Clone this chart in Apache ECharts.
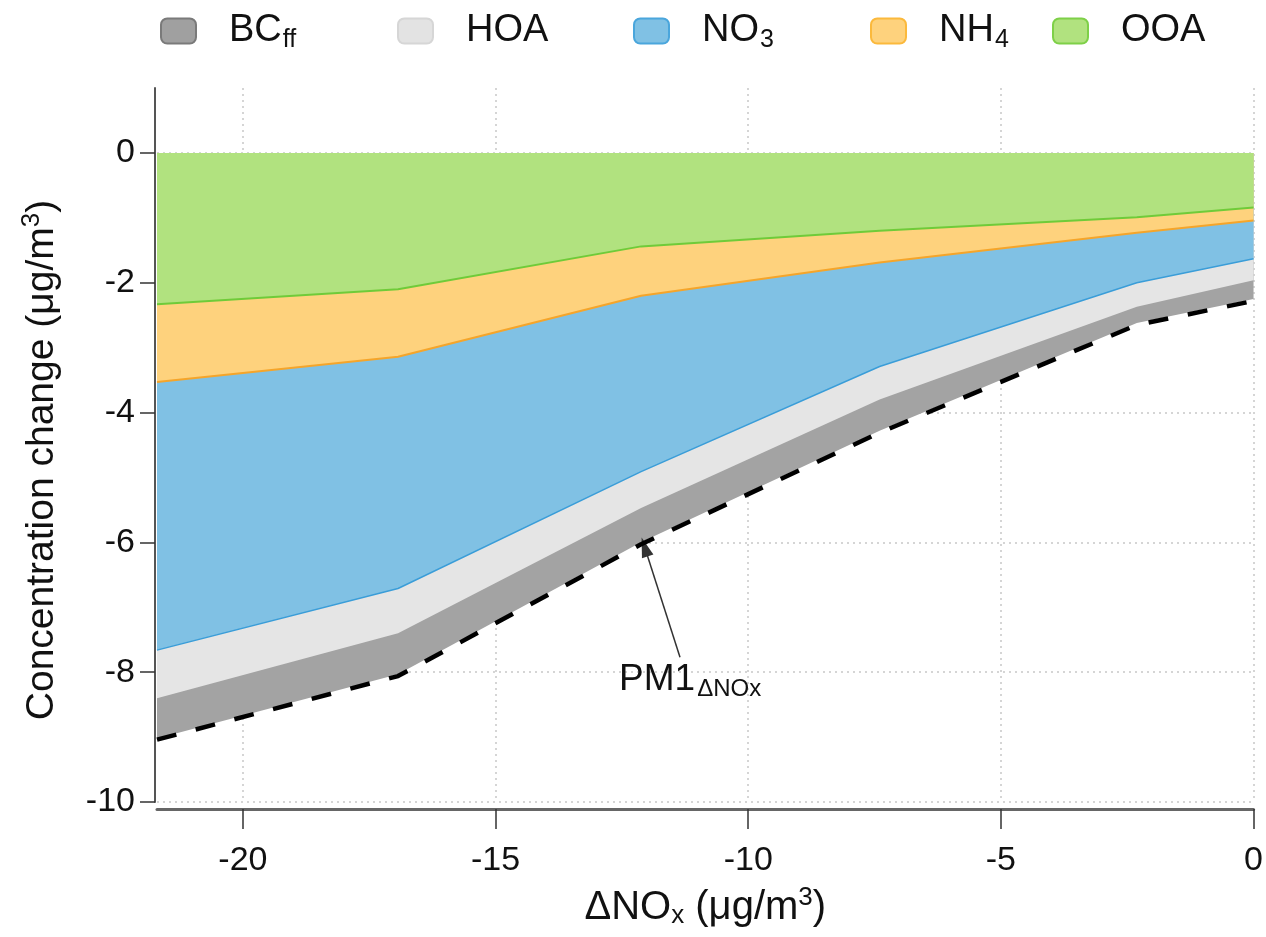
<!DOCTYPE html>
<html><head><meta charset="utf-8">
<script src="https://cdn.jsdelivr.net/npm/echarts@6/dist/echarts.min.js"></script>
<style>html,body{margin:0;padding:0;background:#fff}#c{width:1266px;height:937px}</style>
</head><body><div id="c"></div>
<script>
// ---- data ----
const dNOx = [-21.7, -16.93, -12.12, -7.40, -2.31, 0];
const OOA  = [-2.33, -2.10, -1.44, -1.20, -0.99, -0.84];
const NH4  = [-1.20, -1.04, -0.76, -0.49, -0.24, -0.20];
const NO3  = [-4.13, -3.57, -2.71, -1.60, -0.77, -0.59];
const HOA  = [-0.74, -0.69, -0.56, -0.51, -0.37, -0.33];
const BCff = [-0.62, -0.63, -0.53, -0.48, -0.25, -0.29];
const PM1  = [-9.04, -8.06, -6.03, -4.31, -2.65, -2.28];
const xTicks = [-20, -15, -10, -5, 0];
const yTicks = [-10, -8, -6, -4, -2, 0];
const arrowTail = [-11.35, -7.77];
const arrowTip = [-12.05, -6.07];
const pm1LabelAt = [-11.15, -8.12];

const FONT = 'Liberation Sans, Arial, sans-serif';

// stacking order from zero downward
const layers = [
  {name: 'OOA', data: OOA, fill: '#b1e27f', line: '#6fcb39', lw: 2},
  {name: 'NH4', data: NH4, fill: '#fed27d', line: '#f5a52a', lw: 2},
  {name: 'NO3', data: NO3, fill: '#80c1e4', line: '#3a9dd8', lw: 1.5},
  {name: 'HOA', data: HOA, fill: '#e5e5e5', line: '#e5e5e5', lw: 0},
  {name: 'BCff', data: BCff, fill: '#a3a3a3', line: '#a3a3a3', lw: 0}
];
// cumulative lower boundary of each layer
let running = dNOx.map(() => 0);
layers.forEach(l => {
  running = running.map((r, i) => r + l.data[i]);
  l.cum = running.slice();
});

const legendCfg = [
  {name: 'BCff', left: 160, text: '{a|BC}{s|ff}', color: '#a0a0a0', border: '#7a7a7a'},
  {name: 'HOA', left: 397, text: '{a|HOA}', color: '#e3e3e3', border: '#d6d6d6'},
  {name: 'NO3', left: 633, text: '{a|NO}{s|3}', color: '#80c1e4', border: '#4aa6dc'},
  {name: 'NH4', left: 870, text: '{a|NH}{s|4}', color: '#fed27d', border: '#fbb93c'},
  {name: 'OOA', left: 1052, text: '{a|OOA}', color: '#b1e27f', border: '#7ed048'}
];

// each layer painted as area from 0 to its cumulative boundary; upper layers painted on top
const series = layers.map((l, k) => ({
  name: l.name, type: 'line', data: l.cum.map((v, i) => [dNOx[i], v]),
  symbol: 'none', z: 2 + (layers.length - k) * 0.1,
  lineStyle: {color: l.line, width: l.lw},
  itemStyle: {color: l.fill},
  areaStyle: {color: l.fill, opacity: 1, origin: 'auto'}
}));
series.push({
  name: 'PM1', type: 'line', data: PM1.map((v, i) => [dNOx[i], v]), symbol: 'none', z: 5,
  lineStyle: {color: '#000', width: 4.5, type: [20, 20]},
  markLine: {
    silent: true, symbol: ['none', 'path://M0,0 L6,20 L-6,20 Z'], symbolSize: 20,
    symbolKeepAspect: true,
    itemStyle: {color: '#222'},
    lineStyle: {color: '#333', width: 1.5, type: 'solid'},
    label: {show: false},
    data: [[{coord: arrowTail}, {coord: arrowTip}]]
  },
  markPoint: {
    silent: true, symbol: 'circle', symbolSize: 0,
    data: [{coord: pm1LabelAt}],
    label: {
      show: true, position: 'inside',
      formatter: '{a|PM1}{s|ΔNOx}',
      rich: {
        a: {fontSize: 37, fontFamily: FONT, color: '#111'},
        s: {fontSize: 24, fontFamily: FONT, color: '#111', padding: [18, 0, 0, 2]}
      }
    }
  }
});

const legends = legendCfg.map(c => ({
  show: true, left: c.left, top: 12, padding: 0,
  itemWidth: 35, itemHeight: 25, icon: 'roundRect',
  data: [{name: c.name, icon: 'roundRect', itemStyle: {color: c.color, borderColor: c.border, borderWidth: 2}}],
  formatter: () => c.text,
  selectedMode: false,
  textStyle: {
    rich: {
      a: {fontSize: 38, fontFamily: FONT, color: '#111', padding: [0, 0, 0, 28]},
      s: {fontSize: 25, fontFamily: FONT, color: '#111', padding: [18, 0, 0, 1]}
    }
  }
}));

const chart = echarts.init(document.getElementById('c'), null, {renderer: 'canvas'});
chart.setOption({
  animation: false,
  backgroundColor: '#fff',
  legend: legends,
  grid: {left: 157, right: 12, top: 88, bottom: 135, containLabel: false},
  xAxis: {
    type: 'value', min: -21.7, max: 0, offset: 7,
    name: '{a|ΔNO}{s|x}{a| (μg/m}{p|3}{a|)}',
    nameLocation: 'middle', nameGap: 76,
    nameTextStyle: {
      rich: {
        a: {fontSize: 40, fontFamily: FONT, color: '#111'},
        s: {fontSize: 26, fontFamily: FONT, color: '#111', padding: [16, 0, 0, 0]},
        p: {fontSize: 26, fontFamily: FONT, color: '#111', padding: [0, 0, 20, 0]}
      }
    },
    axisLine: {onZero: false, lineStyle: {color: '#666', width: 3}},
    axisTick: {customValues: xTicks, length: 20, lineStyle: {color: '#333', width: 1.5}},
    axisLabel: {customValues: xTicks, margin: 35, fontSize: 34, fontFamily: FONT, color: '#111'},
    splitLine: {show: true, lineStyle: {color: '#c8c8c8', width: 1.5, type: [2, 4]}}
  },
  yAxis: {
    type: 'value', min: -10, max: 1, interval: 2, offset: 2,
    name: 'Concentration change (μg/m{p|3})',
    nameLocation: 'middle', nameGap: 90, nameRotate: 90,
    nameTextStyle: {
      fontSize: 39, fontFamily: FONT, color: '#111', padding: [0, 30, 0, 0],
      rich: {p: {fontSize: 26, fontFamily: FONT, color: '#111', padding: [0, 0, 20, 0]}}
    },
    axisLine: {show: true, onZero: false, lineStyle: {color: '#555', width: 2}},
    axisTick: {show: true, customValues: yTicks, length: 15, lineStyle: {color: '#333', width: 1.5}},
    axisLabel: {customValues: yTicks, margin: 20, fontSize: 34, fontFamily: FONT, color: '#111'},
    splitLine: {show: true, lineStyle: {color: '#c8c8c8', width: 1.5, type: [2, 4]}}
  },
  series: series
});
</script></body></html>
